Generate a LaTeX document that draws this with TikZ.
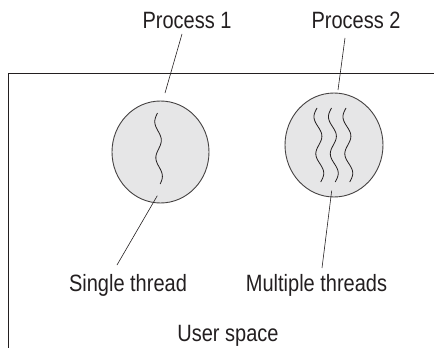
\documentclass[tikz,border=0pt]{standalone}
\usepackage{fontspec}
\setmainfont{Liberation Sans}
\usetikzlibrary{shapes.geometric}
\definecolor{ink}{HTML}{231F20}
\definecolor{cellfill}{HTML}{E6E6E7}
\newcommand{\tallt}[1]{\scalebox{1}[1.18]{#1}}
\tikzset{
  lbl/.style={font=\fontsize{20}{24}\selectfont, text=ink, anchor=base, inner sep=0pt},
  proc/.style={ellipse, draw=ink!85, line width=0.9pt, fill=cellfill, inner sep=0pt},
  leader/.style={draw=ink, line width=0.6pt},
  thr/.style={draw=ink, line width=0.8pt},
  frame/.style={draw=ink, line width=0.9pt}
}
\begin{document}
\begin{tikzpicture}[x=1pt,y=-1pt]
\useasboundingbox (0,0) rectangle (434,348);
% user space frame
\coordinate (fr) at (434,73);
\coordinate (fc) at (8.5,73);
\coordinate (fb) at (8.5,348);
\draw[frame] (fr) -- (fc) -- (fb);
% processes
\node[proc, minimum width=97pt, minimum height=102pt] (c1) at (160.5,152) {};
\node[proc, minimum width=98pt, minimum height=104pt] (c2) at (334,145) {};
% threads
\draw[thr] plot[smooth, domain=0:71, samples=40] ({157.5+0.03*\x-3*sin(\x/36*360)},{113+\x});
\foreach \xo in {317,331.5,346}{
  \draw[thr] plot[smooth, domain=0:74, samples=40] ({\xo+0.05*\x-3.5*sin(\x/37*360)},{108+\x});
}
% labels
\node[lbl] (p1) at (187,28) {\tallt{Process 1}};
\node[lbl] (p2) at (356,28) {\tallt{Process 2}};
\node[lbl] (st) at (128,291) {\tallt{Single thread}};
\node[lbl] (mt) at (316.5,291) {\tallt{Multiple threads}};
\node[lbl] (us) at (228,341) {\tallt{User space}};
% leaders
\coordinate (p1a) at (182,34);
\coordinate (p1b) at (165,93);
\coordinate (p2a) at (345,38);
\coordinate (p2b) at (338,90);
\coordinate (sta) at (157.3,195.7);
\coordinate (stb) at (117,265);
\coordinate (mta) at (331.7,190.7);
\coordinate (mtb) at (322,268);
\draw[leader] (p1a) -- (p1b);
\draw[leader] (p2a) -- (p2b);
\draw[leader] (sta) -- (stb);
\draw[leader] (mta) -- (mtb);
\end{tikzpicture}
\end{document}
